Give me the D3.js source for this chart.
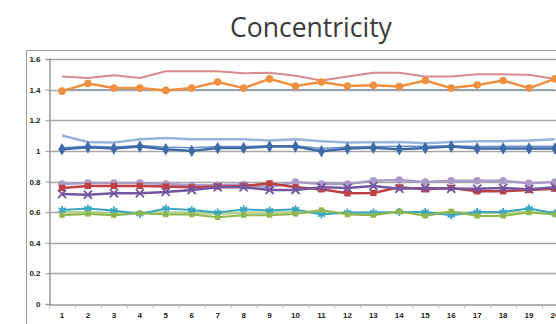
<!DOCTYPE html>
<html>
<head>
<meta charset="utf-8">
<script src="https://cdn.jsdelivr.net/npm/d3@7"></script>
<style>
  body { margin: 0; background: #fff; }
  svg { display: block; }
  .axis text { font-family: "Liberation Sans", Arial, sans-serif; font-weight: bold; font-size: 8px; fill: #222; }
</style>
</head>
<body>
<svg id="chart" width="556" height="324"></svg>
<script>
// Concentricity per sample
const samples = d3.range(1, 21);
const yTicks = [0, 0.2, 0.4, 0.6, 0.8, 1, 1.2, 1.4, 1.6];

const pinkValues = [1.485, 1.476, 1.494, 1.476, 1.52, 1.52, 1.52, 1.507, 1.51, 1.49, 1.46, 1.485, 1.51, 1.51, 1.485, 1.485, 1.5, 1.5, 1.497, 1.47];
const limitValues = [1.4, 1.4, 1.4, 1.4, 1.4, 1.4, 1.4, 1.4, 1.4, 1.4, 1.4, 1.4, 1.4, 1.4, 1.4, 1.4, 1.4, 1.4, 1.4, 1.4];
const orangeValues = [1.39, 1.44, 1.41, 1.41, 1.395, 1.41, 1.45, 1.41, 1.47, 1.424, 1.45, 1.424, 1.428, 1.42, 1.46, 1.41, 1.43, 1.46, 1.41, 1.47];
const lightBlueValues = [1.10, 1.058, 1.054, 1.076, 1.084, 1.076, 1.076, 1.076, 1.067, 1.076, 1.063, 1.054, 1.056, 1.058, 1.05, 1.058, 1.063, 1.063, 1.067, 1.076];
const midBlueValues = [1.02, 1.03, 1.025, 1.035, 1.025, 1.02, 1.028, 1.028, 1.034, 1.034, 1.015, 1.025, 1.028, 1.03, 1.03, 1.034, 1.028, 1.03, 1.03, 1.03];
const blueValues = [1.01, 1.024, 1.015, 1.028, 1.01, 1.0, 1.019, 1.019, 1.028, 1.028, 0.997, 1.015, 1.02, 1.01, 1.019, 1.028, 1.015, 1.015, 1.015, 1.015];
const lilacValues = [0.784, 0.79, 0.79, 0.79, 0.784, 0.775, 0.775, 0.78, 0.762, 0.797, 0.784, 0.784, 0.805, 0.81, 0.797, 0.805, 0.805, 0.805, 0.788, 0.797];
const redValues = [0.758, 0.771, 0.771, 0.771, 0.767, 0.762, 0.767, 0.771, 0.788, 0.762, 0.749, 0.723, 0.725, 0.762, 0.749, 0.758, 0.736, 0.736, 0.745, 0.753];
const purpleValues = [0.718, 0.714, 0.723, 0.723, 0.732, 0.745, 0.762, 0.762, 0.745, 0.745, 0.762, 0.758, 0.771, 0.753, 0.758, 0.753, 0.753, 0.758, 0.749, 0.762];
const lightGreenValues = [0.598, 0.6, 0.592, 0.596, 0.598, 0.596, 0.59, 0.595, 0.596, 0.6, 0.6, 0.592, 0.59, 0.598, 0.592, 0.596, 0.594, 0.594, 0.6, 0.594];
const tealValues = [0.614, 0.623, 0.61, 0.588, 0.623, 0.614, 0.597, 0.618, 0.61, 0.618, 0.584, 0.597, 0.597, 0.601, 0.601, 0.58, 0.601, 0.601, 0.623, 0.593];
const greenValues = [0.58, 0.588, 0.58, 0.593, 0.584, 0.584, 0.566, 0.58, 0.58, 0.588, 0.614, 0.584, 0.58, 0.605, 0.575, 0.605, 0.575, 0.575, 0.597, 0.584];

// drawing order: back to front
const series = [
  { values: limitValues, color: '#7f93b5', width: 1, marker: null },
  { values: pinkValues, color: '#d88c8e', width: 2, marker: null },
  { values: orangeValues, color: '#ef9040', width: 2.5, marker: d3.symbolCircle, size: 45 },
  { values: lightBlueValues, color: '#98b4da', width: 2.5, marker: null },
  { values: midBlueValues, color: '#6d93c8', width: 1.5, marker: null },
  { values: blueValues, color: '#3f6aa8', width: 2.5, marker: d3.symbolDiamond, size: 45 },
  { values: lilacValues, color: '#ab9bc8', width: 2.5, marker: d3.symbolCircle, size: 45 },
  { values: redValues, color: '#bf4043', width: 2.5, marker: d3.symbolSquare, size: 40 },
  { values: purpleValues, color: '#7556a0', width: 2.5, marker: d3.symbolTimes, size: 45 },
  { values: lightGreenValues, color: '#b8d38a', width: 2.5, marker: null },
  { values: tealValues, color: '#3aa6c2', width: 2, marker: d3.symbolAsterisk, size: 45 },
  { values: greenValues, color: '#8fb750', width: 2, marker: d3.symbolSquare, size: 28 }
];

const svg = d3.select('#chart');

// Title
svg.append('text')
  .attr('x', 311)
  .attr('y', 37)
  .attr('text-anchor', 'middle')
  .style('font-family', '"Open Sans", sans-serif')
  .style('font-size', '26.5px')
  .style('fill', '#3a3a3a')
  .text('Concentricity');

// Chart area border (cut by the picture edge on the right and bottom)
svg.append('path')
  .attr('d', 'M26.5,324V50.5H556')
  .attr('fill', 'none')
  .attr('stroke', '#9a9a9a');

/**
 * Scales
 */
const scale = {};
scale.x = d3.scaleBand()
  .domain(samples)
  .range([49, 568]);

scale.y = d3.scaleLinear()
  .domain([0, 1.6])
  .range([304, 59]);

const cx = d => scale.x(d) + scale.x.bandwidth() / 2;

// Gridlines
svg.append('g')
  .selectAll('line')
  .data(yTicks.filter(t => t > 0))
  .join('line')
  .attr('x1', 49)
  .attr('x2', 568)
  .attr('y1', d => Math.round(scale.y(d)) + 0.5)
  .attr('y2', d => Math.round(scale.y(d)) + 0.5)
  .attr('stroke', '#a8a8a8')
  .attr('stroke-width', 1.5);

// Axes
const axis = {};
axis.y = d3.axisLeft(scale.y)
  .tickValues(yTicks)
  .tickSize(4)
  .tickPadding(5)
  .tickFormat(d3.format('~g'));

axis.x = d3.axisBottom(scale.x)
  .tickSize(0)
  .tickPadding(8);

const gy = svg.append('g')
  .attr('class', 'axis')
  .attr('transform', 'translate(49.5,0)')
  .call(axis.y);
gy.select('.domain').attr('stroke', '#999').attr('stroke-width', 1.5);
gy.selectAll('.tick line').attr('stroke', '#999');

const gx = svg.append('g')
  .attr('class', 'axis')
  .attr('transform', 'translate(0,304.5)')
  .call(axis.x);
gx.select('.domain').attr('stroke', '#999').attr('stroke-width', 1.5);

// small ticks between categories
gx.selectAll('.sep')
  .data(samples)
  .join('line')
  .attr('class', 'sep')
  .attr('x1', d => scale.x(d) + 0.5)
  .attr('x2', d => scale.x(d) + 0.5)
  .attr('y1', 0)
  .attr('y2', 4)
  .attr('stroke', '#bbb');

/**
 * Series lines and markers
 */
const line = d3.line()
  .x((v, i) => cx(samples[i]))
  .y(v => scale.y(v));

const plot = svg.append('g');

series.forEach(s => {
  plot.append('path')
    .attr('d', line(s.values))
    .attr('fill', 'none')
    .attr('stroke', s.color)
    .attr('stroke-width', s.width)
    .attr('stroke-linejoin', 'round');

  if (!s.marker) return;
  const stroked = s.marker === d3.symbolTimes || s.marker === d3.symbolAsterisk;
  plot.append('g')
    .selectAll('path')
    .data(s.values)
    .join('path')
    .attr('transform', (v, i) => `translate(${cx(samples[i])},${scale.y(v)})`)
    .attr('d', d3.symbol().type(s.marker).size(s.size))
    .attr('fill', stroked ? 'none' : s.color)
    .attr('stroke', s.color)
    .attr('stroke-width', stroked ? 1.8 : 0);
});
</script>
</body>
</html>
